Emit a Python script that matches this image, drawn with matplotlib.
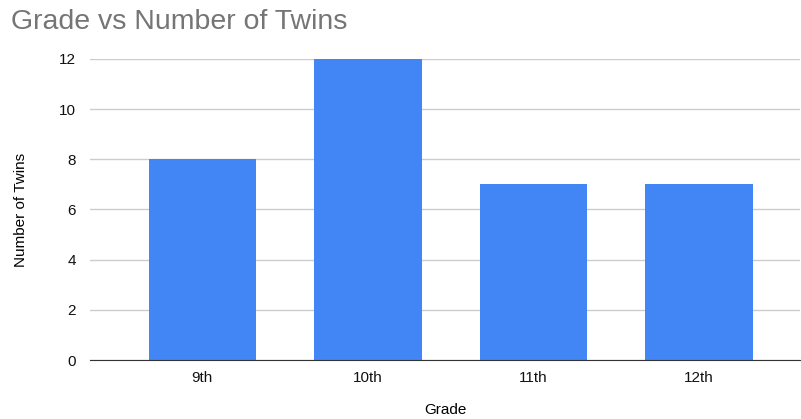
import matplotlib
matplotlib.use('Agg')
import matplotlib.pyplot as plt

grades = ['9th', '10th', '11th', '12th']
twins = [8, 12, 7, 7]

plt.rcParams['font.family'] = ['Liberation Sans', 'DejaVu Sans']

fig = plt.figure(figsize=(8.01, 4.19), dpi=100)
ax = fig.add_axes([0.112, 0.1408, 0.887, 0.7184])

x = range(len(grades))
ax.bar(x, twins, width=0.65, color='#4285F4', zorder=3)

ax.set_xlim(-0.68, 3.61)
ax.set_ylim(0, 12)
ax.set_yticks([0, 2, 4, 6, 8, 10, 12])
ax.set_xticks(list(x))
ax.set_xticklabels(grades)
ax.yaxis.grid(True, color='#cccccc', linewidth=1, zorder=0)
ax.set_axisbelow(True)

for s in ['top', 'right', 'left']:
    ax.spines[s].set_visible(False)
ax.spines['bottom'].set_color('#333333')
ax.spines['bottom'].set_zorder(4)
ax.tick_params(axis='both', length=0, labelsize=11, colors='#111111')
ax.tick_params(axis='y', pad=10)
ax.tick_params(axis='x', pad=8)

ax.set_xlabel('Grade', fontsize=11)
ax.xaxis.set_label_coords(0.5, -0.165)
ax.xaxis.label.set_va('center')
ax.set_ylabel('Number of Twins', fontsize=11, labelpad=22)

fig.text(0.014, 0.948, 'Grade vs Number of Twins', fontsize=20.5, color='#757575',
         ha='left', va='center')

fig.savefig('out.png', dpi=100)
